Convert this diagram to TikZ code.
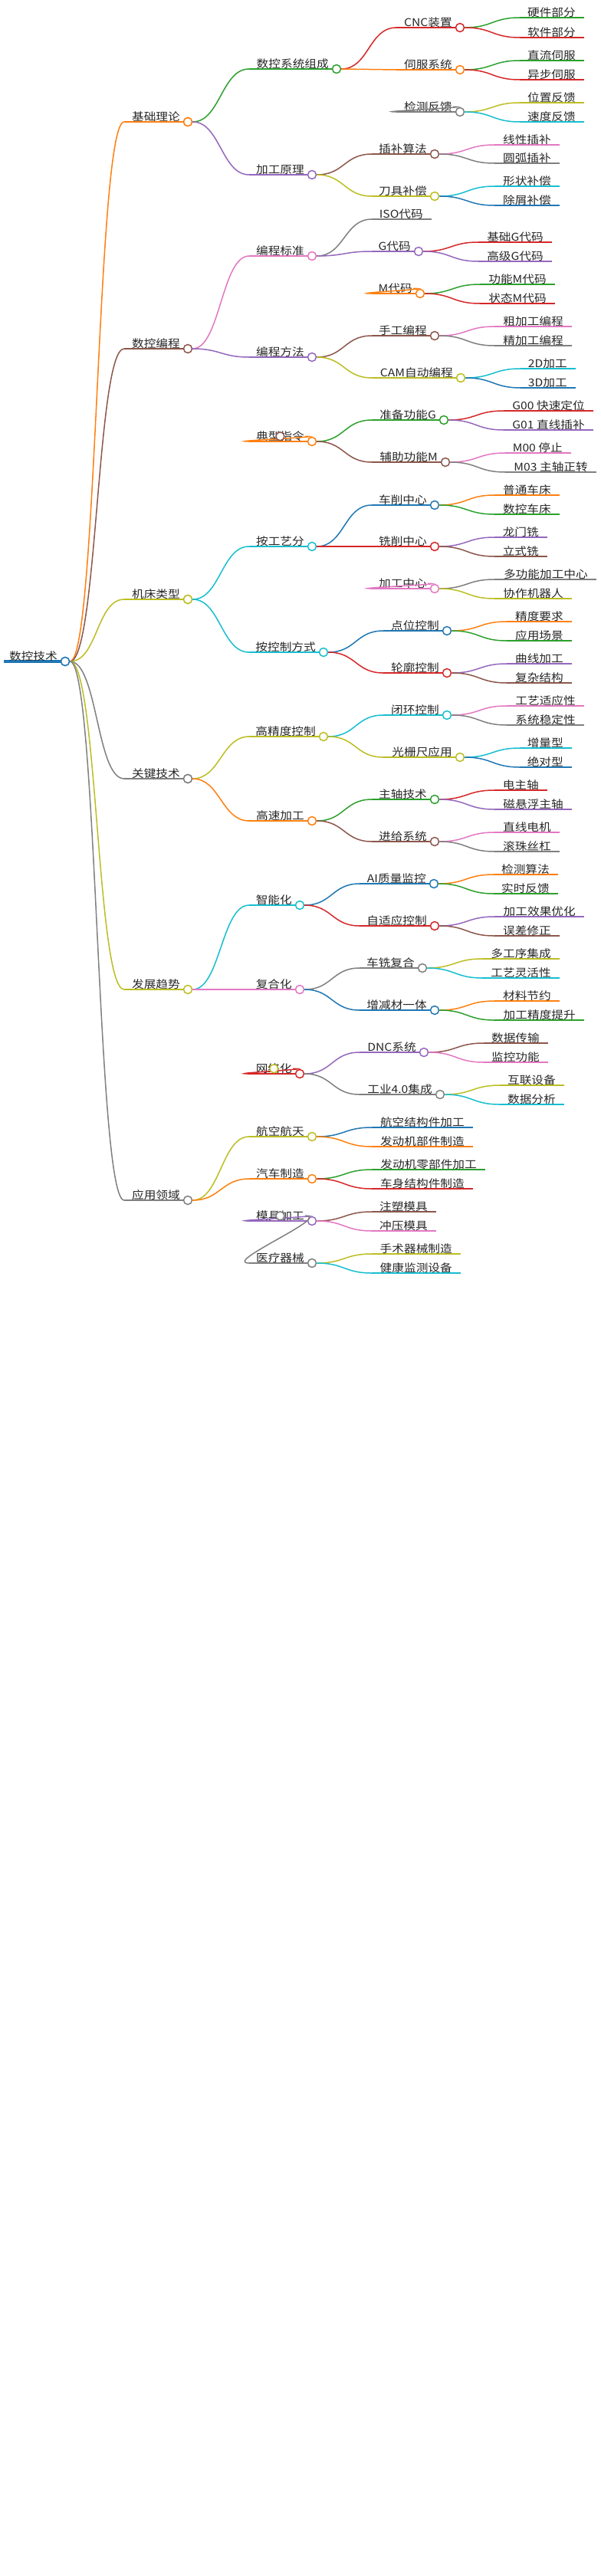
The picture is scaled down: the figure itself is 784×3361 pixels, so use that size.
\documentclass[tikz,border=0pt]{standalone}
\usepackage{fontspec}
\setmainfont{Noto Sans CJK SC}
\definecolor{cB}{HTML}{1F77B4}\definecolor{cO}{HTML}{FF7F0E}\definecolor{cG}{HTML}{2CA02C}
\definecolor{cR}{HTML}{D62728}\definecolor{cP}{HTML}{9467BD}\definecolor{cN}{HTML}{8C564B}
\definecolor{cK}{HTML}{E377C2}\definecolor{cY}{HTML}{7F7F7F}\definecolor{cL}{HTML}{BCBD22}
\definecolor{cC}{HTML}{17BECF}
\tikzset{lw/.style={line width=1.5pt},
 lbl/.style={inner sep=1pt,font=\fontsize{14}{16}\selectfont,text=black!85},
 circ/.style={circle,fill=white,line width=1.5pt,minimum size=11pt,inner sep=0pt}}
% branch: name, xs, xc, y, color, text
\newcommand\br[6]{\coordinate (#1s) at (#2,#4);
 \draw[#5,lw] (#1s) -- (#3-6,#4);
 \node[lbl,anchor=south east] (#1) at (#3-9,#4+1) {\scalebox{1.12}[1]{#6}};
 \node[circ,draw=#5] (#1c) at (#3,#4) {};}
% leaf: name, xs, xe, y, color, text
\newcommand\lf[6]{\coordinate (#1s) at (#2,#4); \coordinate (#1e) at (#3,#4);
 \draw[#5,lw] (#1s) -- (#1e);
 \node[lbl,anchor=south east] (#1) at (#3-10,#4+1) {\scalebox{1.12}[1]{#6}};}
% edge: parent, child, color
\newcommand\ed[3]{\draw[#3,lw] (#1c.east) .. controls ([xshift=36pt]#1c.east) and ([xshift=-36pt]#2s) .. (#2s);}
\begin{document}
\begin{tikzpicture}[x=1pt,y=-1pt]
\useasboundingbox (0,0) rectangle (784,3361);
% root
\coordinate (rts) at (5,863);
\draw[cB,line width=4pt] (rts) -- (79,863);
\node[lbl,anchor=south east] (rt) at (76,864) {\scalebox{1.12}[1]{数控技术}};
\node[circ,draw=cB] (rtc) at (85,863) {};
% level 1
\br{a}{162}{245}{159}{cO}{基础理论}\ed{rt}{a}{cO}
\br{b}{162}{245}{455}{cN}{数控编程}\ed{rt}{b}{cN}
\br{c}{162}{245}{782}{cL}{机床类型}\ed{rt}{c}{cL}
\br{d}{162}{245}{1016}{cY}{关键技术}\ed{rt}{d}{cY}
\br{e}{162}{245}{1291}{cL}{发展趋势}\ed{rt}{e}{cL}
\br{f}{162}{245}{1566}{cY}{应用领域}\ed{rt}{f}{cY}
% A
\br{aa}{325}{439}{90}{cG}{数控系统组成}\ed{a}{aa}{cG}
 \br{aaa}{517}{600}{36}{cR}{CNC装置}\ed{aa}{aaa}{cR}
  \lf{aaaa}{678}{762}{23}{cG}{硬件部分}\ed{aaa}{aaaa}{cG}
  \lf{aaab}{678}{762}{49}{cR}{软件部分}\ed{aaa}{aaab}{cR}
 \br{aab}{517}{600}{91}{cO}{伺服系统}\ed{aa}{aab}{cO}
  \lf{aaba}{678}{762}{79}{cG}{直流伺服}\ed{aab}{aaba}{cG}
  \lf{aabb}{678}{762}{104}{cR}{异步伺服}\ed{aab}{aabb}{cR}
 \br{aac}{517}{600}{146}{cY}{检测反馈}\ed{aa}{aac}{cY}
  \lf{aaca}{678}{762}{134}{cL}{位置反馈}\ed{aac}{aaca}{cL}
  \lf{aacb}{678}{762}{159}{cC}{速度反馈}\ed{aac}{aacb}{cC}
\br{ab}{325}{407}{228}{cP}{加工原理}\ed{a}{ab}{cP}
 \br{aba}{485}{567}{201}{cN}{插补算法}\ed{ab}{aba}{cN}
  \lf{abaa}{645}{730}{189}{cK}{线性插补}\ed{aba}{abaa}{cK}
  \lf{abab}{645}{730}{213}{cY}{圆弧插补}\ed{aba}{abab}{cY}
 \br{abb}{485}{567}{256}{cL}{刀具补偿}\ed{ab}{abb}{cL}
  \lf{abba}{645}{730}{243}{cC}{形状补偿}\ed{abb}{abba}{cC}
  \lf{abbb}{645}{730}{268}{cB}{除屑补偿}\ed{abb}{abbb}{cB}
% B
\br{ba}{325}{407}{334}{cK}{编程标准}\ed{b}{ba}{cK}
 \lf{baa}{485}{563}{286}{cY}{ISO代码}\draw[cY,lw] (bac.east) (bac.east); \ed{ba}{baa}{cY}
 \br{bab}{485}{546}{328}{cP}{G代码}\ed{ba}{bab}{cP}
  \lf{baba}{624}{720}{316}{cR}{基础G代码}\ed{bab}{baba}{cR}
  \lf{babb}{624}{720}{341}{cP}{高级G代码}\ed{bab}{babb}{cP}
 \br{bac}{485}{548}{383}{cO}{M代码}\ed{ba}{bac}{cO}
  \lf{baca}{626}{724}{371}{cG}{功能M代码}\ed{bac}{baca}{cG}
  \lf{bacb}{626}{724}{396}{cR}{状态M代码}\ed{bac}{bacb}{cR}
\br{bb}{325}{407}{466}{cP}{编程方法}\ed{b}{bb}{cP}
 \br{bba}{485}{567}{438}{cN}{手工编程}\ed{bb}{bba}{cN}
  \lf{bbaa}{645}{746}{426}{cK}{粗加工编程}\ed{bba}{bbaa}{cK}
  \lf{bbab}{645}{746}{451}{cY}{精加工编程}\ed{bba}{bbab}{cY}
 \br{bbb}{485}{601}{493}{cL}{CAM自动编程}\ed{bb}{bbb}{cL}
  \lf{bbba}{679}{751}{481}{cC}{2D加工}\ed{bbb}{bbba}{cC}
  \lf{bbbb}{679}{751}{506}{cB}{3D加工}\ed{bbb}{bbbb}{cB}
\br{bc}{325}{407}{576}{cO}{典型指令}\ed{b}{bc}{cO}
 \br{bca}{485}{579}{548}{cG}{准备功能G}\ed{bc}{bca}{cG}
  \lf{bcaa}{657}{774}{536}{cR}{G00 快速定位}\ed{bca}{bcaa}{cR}
  \lf{bcab}{657}{774}{561}{cP}{G01 直线插补}\ed{bca}{bcab}{cP}
 \br{bcb}{485}{581}{603}{cN}{辅助功能M}\ed{bc}{bcb}{cN}
  \lf{bcba}{659}{745}{591}{cK}{M00 停止}\ed{bcb}{bcba}{cK}
  \lf{bcbb}{659}{778}{616}{cY}{M03 主轴正转}\ed{bcb}{bcbb}{cY}
% C
\br{ca}{325}{407}{713}{cC}{按工艺分}\ed{c}{ca}{cC}
 \br{caa}{485}{567}{659}{cB}{车削中心}\ed{ca}{caa}{cB}
  \lf{caaa}{645}{730}{646}{cO}{普通车床}\ed{caa}{caaa}{cO}
  \lf{caab}{645}{730}{671}{cG}{数控车床}\ed{caa}{caab}{cG}
 \br{cab}{485}{567}{713}{cR}{铣削中心}\ed{ca}{cab}{cR}
  \lf{caba}{645}{714}{701}{cP}{龙门铣}\ed{cab}{caba}{cP}
  \lf{cabb}{645}{714}{726}{cN}{立式铣}\ed{cab}{cabb}{cN}
 \br{cac}{485}{567}{768}{cK}{加工中心}\ed{ca}{cac}{cK}
  \lf{caca}{645}{778}{756}{cY}{多功能加工中心}\ed{cac}{caca}{cY}
  \lf{cacb}{645}{746}{781}{cL}{协作机器人}\ed{cac}{cacb}{cL}
\br{cb}{325}{422}{851}{cC}{按控制方式}\ed{c}{cb}{cC}
 \br{cba}{500}{583}{823}{cB}{点位控制}\ed{cb}{cba}{cB}
  \lf{cbaa}{661}{746}{811}{cO}{精度要求}\ed{cba}{cbaa}{cO}
  \lf{cbab}{661}{746}{836}{cG}{应用场景}\ed{cba}{cbab}{cG}
 \br{cbb}{500}{583}{878}{cR}{轮廓控制}\ed{cb}{cbb}{cR}
  \lf{cbba}{661}{746}{866}{cP}{曲线加工}\ed{cbb}{cbba}{cP}
  \lf{cbbb}{661}{746}{891}{cN}{复杂结构}\ed{cbb}{cbbb}{cN}
% D
\br{da}{325}{422}{961}{cL}{高精度控制}\ed{d}{da}{cL}
 \br{daa}{500}{583}{933}{cC}{闭环控制}\ed{da}{daa}{cC}
  \lf{daaa}{661}{762}{921}{cK}{工艺适应性}\ed{daa}{daaa}{cK}
  \lf{daab}{661}{762}{946}{cY}{系统稳定性}\ed{daa}{daab}{cY}
 \br{dab}{500}{600}{988}{cL}{光栅尺应用}\ed{da}{dab}{cL}
  \lf{daba}{678}{746}{976}{cC}{增量型}\ed{dab}{daba}{cC}
  \lf{dabb}{678}{746}{1001}{cB}{绝对型}\ed{dab}{dabb}{cB}
\br{db}{325}{407}{1071}{cO}{高速加工}\ed{d}{db}{cO}
 \br{dba}{485}{567}{1043}{cG}{主轴技术}\ed{db}{dba}{cG}
  \lf{dbaa}{645}{714}{1031}{cR}{电主轴}\ed{dba}{dbaa}{cR}
  \lf{dbab}{645}{746}{1056}{cP}{磁悬浮主轴}\ed{dba}{dbab}{cP}
 \br{dbb}{485}{567}{1098}{cN}{进给系统}\ed{db}{dbb}{cN}
  \lf{dbba}{645}{730}{1086}{cK}{直线电机}\ed{dbb}{dbba}{cK}
  \lf{dbbb}{645}{730}{1111}{cY}{滚珠丝杠}\ed{dbb}{dbbb}{cY}
% E
\br{ea}{325}{391}{1181}{cC}{智能化}\ed{e}{ea}{cC}
 \br{eaa}{469}{566}{1153}{cB}{AI质量监控}\ed{ea}{eaa}{cB}
  \lf{eaaa}{644}{728}{1141}{cO}{检测算法}\ed{eaa}{eaaa}{cO}
  \lf{eaab}{644}{728}{1166}{cG}{实时反馈}\ed{eaa}{eaab}{cG}
 \br{eab}{469}{567}{1208}{cR}{自适应控制}\ed{ea}{eab}{cR}
  \lf{eaba}{645}{762}{1196}{cP}{加工效果优化}\ed{eab}{eaba}{cP}
  \lf{eabb}{645}{730}{1221}{cN}{误差修正}\ed{eab}{eabb}{cN}
\br{eb}{325}{391}{1291}{cK}{复合化}\ed{e}{eb}{cK}
 \br{eba}{469}{551}{1263}{cY}{车铣复合}\ed{eb}{eba}{cY}
  \lf{ebaa}{629}{730}{1251}{cL}{多工序集成}\ed{eba}{ebaa}{cL}
  \lf{ebab}{629}{730}{1276}{cC}{工艺灵活性}\ed{eba}{ebab}{cC}
 \br{ebb}{469}{567}{1318}{cB}{增减材一体}\ed{eb}{ebb}{cB}
  \lf{ebba}{645}{730}{1306}{cO}{材料节约}\ed{ebb}{ebba}{cO}
  \lf{ebbb}{645}{762}{1331}{cG}{加工精度提升}\ed{ebb}{ebbb}{cG}
\br{ec}{325}{391}{1401}{cR}{网络化}\ed{e}{ec}{cR}
 \br{eca}{469}{553}{1373}{cP}{DNC系统}\ed{ec}{eca}{cP}
  \lf{ecaa}{631}{715}{1361}{cN}{数据传输}\ed{eca}{ecaa}{cN}
  \lf{ecab}{631}{715}{1386}{cK}{监控功能}\ed{eca}{ecab}{cK}
 \br{ecb}{469}{574}{1428}{cY}{工业4.0集成}\ed{ec}{ecb}{cY}
  \lf{ecba}{652}{736}{1416}{cL}{互联设备}\ed{ecb}{ecba}{cL}
  \lf{ecbb}{652}{736}{1441}{cC}{数据分析}\ed{ecb}{ecbb}{cC}
% F
\br{fa}{325}{407}{1483}{cL}{航空航天}\ed{f}{fa}{cL}
 \lf{faa}{485}{617}{1471}{cB}{航空结构件加工}\ed{fa}{faa}{cB}
 \lf{fab}{485}{617}{1496}{cO}{发动机部件制造}\ed{fa}{fab}{cO}
\br{fb}{325}{407}{1538}{cO}{汽车制造}\ed{f}{fb}{cO}
 \lf{fba}{485}{633}{1526}{cG}{发动机零部件加工}\ed{fb}{fba}{cG}
 \lf{fbb}{485}{617}{1551}{cR}{车身结构件制造}\ed{fb}{fbb}{cR}
\br{fc}{325}{407}{1593}{cP}{模具加工}\ed{f}{fc}{cP}
 \lf{fca}{485}{569}{1581}{cN}{注塑模具}\ed{fc}{fca}{cN}
 \lf{fcb}{485}{569}{1606}{cK}{冲压模具}\ed{fc}{fcb}{cK}
\br{fd}{325}{407}{1648}{cY}{医疗器械}\ed{f}{fd}{cY}
 \lf{fda}{485}{601}{1636}{cL}{手术器械制造}\ed{fd}{fda}{cL}
 \lf{fdb}{485}{601}{1661}{cC}{健康监测设备}\ed{fd}{fdb}{cC}
% redraw circles on top of edges
\foreach \n/\c in {rt/cB,a/cO,b/cN,c/cL,d/cY,e/cL,f/cY}{\node[circ,draw=\c] at (\n c) {};}
\end{tikzpicture}
\end{document}
